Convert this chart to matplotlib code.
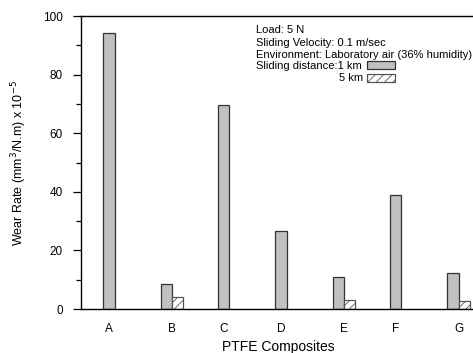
import matplotlib
matplotlib.use("Agg")
import matplotlib.pyplot as plt
from matplotlib.patches import Rectangle
from matplotlib.ticker import MultipleLocator
import numpy as np

plt.rcParams['font.family'] = ['Liberation Sans', 'DejaVu Sans']
plt.rcParams['hatch.linewidth'] = 0.6

# data
composites = ["A", "B", "C", "D", "E", "F", "G"]
wear_1km = [94.2, 8.5, 69.8, 26.7, 11.0, 38.9, 12.3]
wear_5km = [None, 4.1, None, None, 3.1, None, 2.7]

fig = plt.figure(figsize=(4.73, 3.53), dpi=100)
ax = fig.add_axes([0.171, 0.1246, 0.835, 0.830])

x = np.arange(len(composites))
w = 0.2
ax.bar(x, wear_1km, width=w, color="#c0c0c0", edgecolor="#333333", linewidth=0.9)
x5 = [xi + w for xi, v in zip(x, wear_5km) if v is not None]
v5 = [v for v in wear_5km if v is not None]
ax.bar(x5, v5, width=w, color="white", edgecolor="#555555", linewidth=0.9, hatch="////")

# tick labels sit under the pair when there is a second bar
tick_pos = [xi + w / 2 if v is not None else xi for xi, v in zip(x, wear_5km)]
ax.set_xticks(tick_pos)
ax.set_xticklabels(composites, fontsize=8.5)
ax.tick_params(axis='x', length=0, pad=10)

ax.set_xlim(-0.49, 6.4)
ax.set_ylim(0, 100)
ax.yaxis.set_major_locator(MultipleLocator(20))
ax.yaxis.set_minor_locator(MultipleLocator(10))
ax.tick_params(axis='y', which='major', length=6, width=0.9, pad=7, labelsize=8.5)
ax.tick_params(axis='y', which='minor', length=3.5, width=0.9)
for s in ax.spines.values():
    s.set_linewidth(1.0)
ax.spines['right'].set_visible(False)

ax.set_xlabel("PTFE Composites", fontsize=10, labelpad=4)
ax.set_ylabel("Wear Rate (mm$^3$/N.m) x 10$^{-5}$", fontsize=9, labelpad=10)

# annotation block
tx = 0.443
lines = ["Load: 5 N", "Sliding Velocity: 0.1 m/sec",
         "Environment: Laboratory air (36% humidity)", "Sliding distance:1 km"]
ys = [0.952, 0.909, 0.868, 0.829]
for t, yy in zip(lines, ys):
    ax.text(tx, yy, t, transform=ax.transAxes, fontsize=8, va='center', ha='left')
ax.text(0.714, 0.788, "5 km", transform=ax.transAxes, fontsize=8, va='center', ha='right')
ax.add_patch(Rectangle((0.724, 0.820), 0.071, 0.026, transform=ax.transAxes,
                       facecolor="#c0c0c0", edgecolor="#333333", linewidth=0.9))
ax.add_patch(Rectangle((0.724, 0.775), 0.071, 0.026, transform=ax.transAxes,
                       facecolor="white", edgecolor="#555555", linewidth=0.9, hatch="////"))

fig.savefig("out.png", dpi=100)
